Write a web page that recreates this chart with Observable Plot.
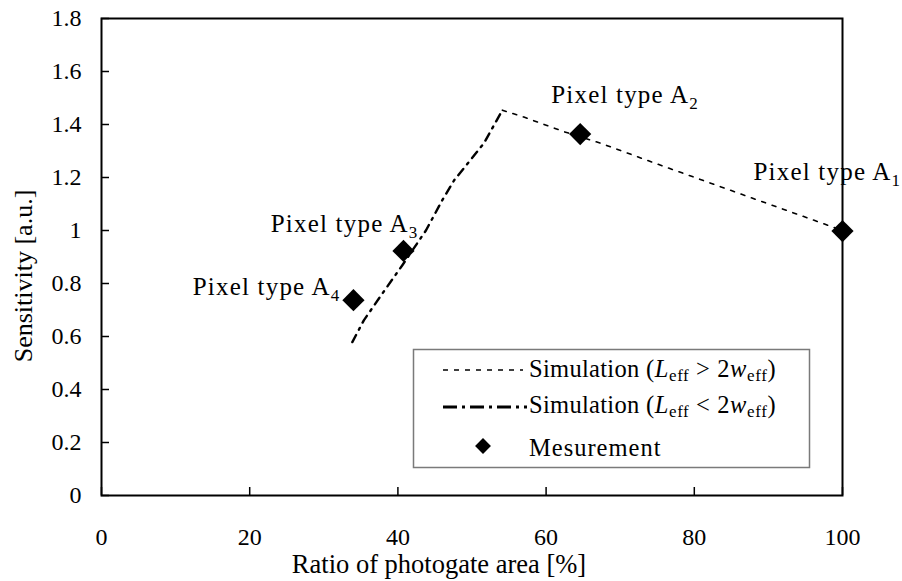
<!DOCTYPE html>
<html>
<head>
<meta charset="utf-8">
<script src="https://cdn.jsdelivr.net/npm/d3@7"></script>
<script src="https://cdn.jsdelivr.net/npm/@observablehq/plot@0.6"></script>
<style>
  html, body { margin: 0; padding: 0; background: white; }
  svg text { font-family: "Liberation Serif", "Times New Roman", serif !important; font-variant: normal !important; }
</style>
</head>
<body>
<script>
// ---- data ----
const measX = [100, 64.6, 40.75, 34.0];
const measY = [0.998, 1.364, 0.923, 0.737];
const measSub = ["1", "2", "3", "4"];

const simHighX = [54.1, 57.0, 62.4, 67.4, 74.8, 100];
const simHighY = [1.454, 1.428, 1.373, 1.329, 1.253, 1.0];

const simLowX = [33.85, 35.4, 37.9, 40.6, 43.8, 46.0, 47.6, 51.6, 54.1];
const simLowY = [0.579, 0.661, 0.762, 0.869, 1.001, 1.115, 1.19, 1.329, 1.454];

const xTicks = [0, 20, 40, 60, 80, 100];
const yTicks = [0, 0.2, 0.4, 0.6, 0.8, 1.0, 1.2, 1.4, 1.6, 1.8];
const yTickLabels = ["0", "0.2", "0.4", "0.6", "0.8", "1", "1.2", "1.4", "1.6", "1.8"];

const xTitle = "Ratio of photogate area [%]";
const yTitle = "Sensitivity [a.u.]";
const labelPrefix = "Pixel type A";

// ---- tables ----
const meas = measX.map((x, i) => ({x, y: measY[i], sub: measSub[i]}));
const simHigh = simHighX.map((x, i) => ({x, y: simHighY[i]}));
const simLow = simLowX.map((x, i) => ({x, y: simLowY[i]}));

const font = "Liberation Serif";

function pointLabel(i, anchor, dx, dy) {
  return Plot.text([meas[i]], {
    x: "x", y: "y", text: d => labelPrefix + "\u200B" + d.sub,
    textAnchor: anchor, lineAnchor: "bottom", dx, dy,
    fontSize: 25, fill: "black"
  });
}

const svg = Plot.plot({
  width: 902,
  height: 581,
  marginLeft: 101,
  marginRight: 60,
  marginTop: 18,
  marginBottom: 86,
  style: {fontFamily: font, fontSize: "24px", background: "white", color: "black", overflow: "visible"},
  x: {domain: [0, 100]},
  y: {domain: [0, 1.8]},
  marks: [
    Plot.axisX({ticks: xTicks, tickSize: -8, tickPadding: 40, fontSize: 24, stroke: "black", strokeWidth: 1.5, label: null}),
    Plot.axisY({ticks: yTicks, tickFormat: d => yTickLabels[yTicks.indexOf(d)], tickSize: -8, tickPadding: 28, fontSize: 24, stroke: "black", strokeWidth: 1.5, label: null}),
    Plot.line(simHigh, {x: "x", y: "y", stroke: "black", strokeWidth: 1.6, strokeDasharray: "4,7"}),
    Plot.line(simLow, {x: "x", y: "y", stroke: "black", strokeWidth: 2.4, strokeDasharray: "8,6,2,6"}),
    Plot.dot(meas, {x: "x", y: "y", symbol: "diamond2", r: 10, fill: "black", stroke: null}),
    pointLabel(0, "start", -89, -51),
    pointLabel(1, "start", -29, -31),
    pointLabel(2, "end", 15, -19),
    pointLabel(3, "end", -13, -5),
    Plot.text([xTitle], {frameAnchor: "bottom", text: d => d, dx: -33, dy: 77, fontSize: 26.5, lineAnchor: "bottom"}),
    Plot.frame({stroke: "black", strokeWidth: 2})
  ]
});

// subscripts in point labels, slightly wider letter spacing as in the reference
svg.querySelectorAll("text").forEach(t => {
  const s = t.textContent;
  if (s.startsWith(labelPrefix + "\u200B")) {
    const sub = s.split("\u200B")[1];
    t.textContent = labelPrefix;
    t.setAttribute("letter-spacing", "1.2");
    const ts = document.createElementNS("http://www.w3.org/2000/svg", "tspan");
    ts.setAttribute("font-size", "17");
    ts.setAttribute("dy", "6");
    ts.textContent = sub;
    t.appendChild(ts);
  }
});

// y-axis title
d3.select(svg).append("text")
  .attr("transform", "translate(32,276) rotate(-90)")
  .attr("text-anchor", "middle")
  .attr("font-size", 26).attr("fill", "black")
  .text(yTitle);

// legend
const lg = d3.select(svg).append("g").attr("font-size", 24.5)
  .attr("fill", "black").attr("text-anchor", "start");
lg.append("rect").attr("x", 413.5).attr("y", 349.5).attr("width", 396).attr("height", 118)
  .attr("fill", "white").attr("stroke", "#7a7a7a").attr("stroke-width", 1.5);
lg.append("line").attr("x1", 443).attr("x2", 523).attr("y1", 370).attr("y2", 370)
  .attr("stroke", "black").attr("stroke-width", 1.6).attr("stroke-dasharray", "5,6");
lg.append("line").attr("x1", 443).attr("x2", 527).attr("y1", 407).attr("y2", 407)
  .attr("stroke", "black").attr("stroke-width", 3).attr("stroke-dasharray", "14,5,3,5");
lg.append("path").attr("d", d3.symbol(d3.symbolDiamond2, 160)()).attr("transform", "translate(483,446)").attr("fill", "black");

function paren(y, op) {
  const t = lg.append("text").attr("x", 646).attr("y", y).attr("letter-spacing", "0.6");
  t.append("tspan").text("(");
  t.append("tspan").attr("font-style", "italic").text("L");
  t.append("tspan").attr("font-size", 17).attr("dy", 4).text("eff");
  t.append("tspan").attr("dy", -4).text(" " + op + " 2");
  t.append("tspan").attr("font-style", "italic").text("w");
  t.append("tspan").attr("font-size", 17).attr("dy", 4).text("eff");
  t.append("tspan").attr("dy", -4).text(")");
}
lg.append("text").attr("x", 529).attr("y", 377).attr("letter-spacing", "0.3").text("Simulation");
paren(377, ">");
lg.append("text").attr("x", 529).attr("y", 413).attr("letter-spacing", "0.3").text("Simulation");
paren(413, "<");
lg.append("text").attr("x", 529).attr("y", 456).attr("letter-spacing", "1").text("Mesurement");

document.body.append(svg);
</script>
</body>
</html>
